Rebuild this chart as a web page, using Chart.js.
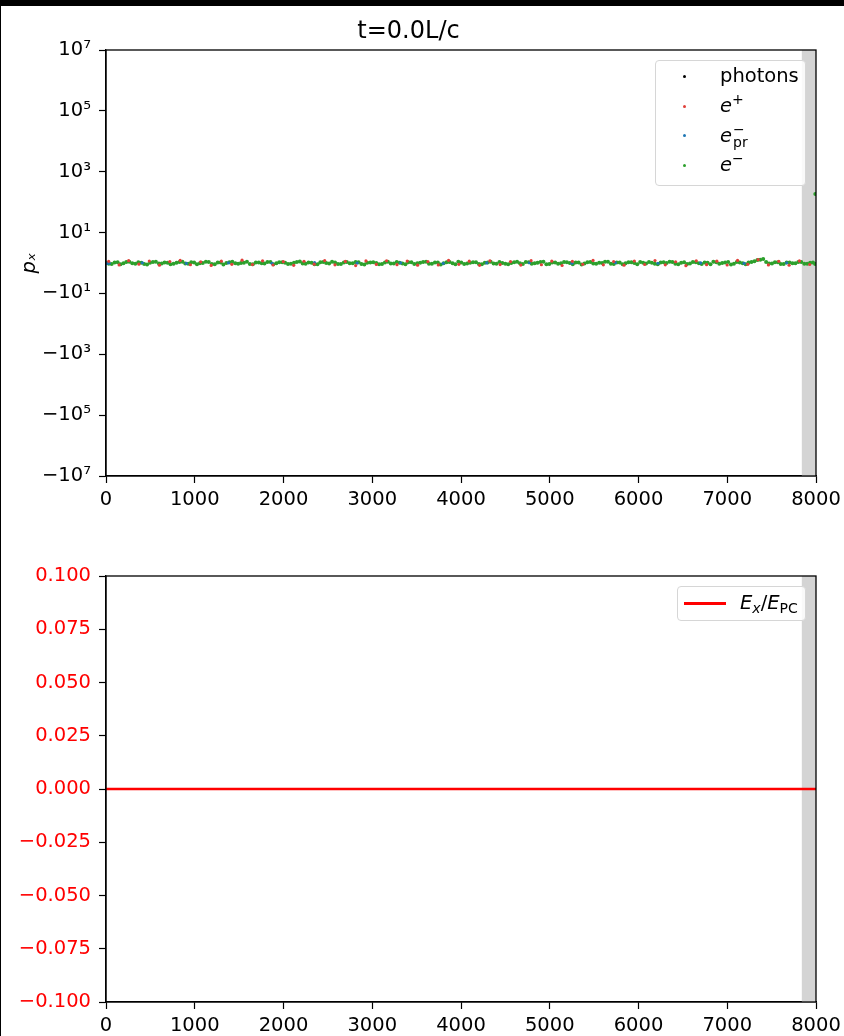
<!DOCTYPE html>
<html>
<head>
<meta charset="utf-8">
<script src="https://cdn.jsdelivr.net/npm/chart.js@4/dist/chart.umd.min.js"></script>
<style>
  body { margin: 0; background: #000; }
  #page { position: absolute; left: 1px; top: 6px; width: 843px; height: 1030px; background: #fff; }
  .panel { position: absolute; left: 0; width: 843px; }
  .leg { position: absolute; background: rgba(255,255,255,0.85); border: 1px solid #d6d6d6; border-radius: 4px;
         font-family: "DejaVu Sans"; font-size: 19.5px; color: #000; box-sizing: border-box; }
  .row { position: relative; height: 29.5px; }
  .dot { position: absolute; left: 27px; top: 13px; width: 3px; height: 3px; border-radius: 50%; }
  .txt { position: absolute; left: 64px; top: 1px; white-space: nowrap; line-height: 26px; }
  .txt sup { font-size: 0.72em; vertical-align: 0.55em; line-height: 0; }
  .ss { position: relative; display: inline-block; width: 26px; height: 19.5px; vertical-align: baseline; }
  .ss span { position: absolute; left: 1px; font-size: 14px; line-height: 14px; }
  .ss .u { top: 0px; }
  .ss .d { top: 13px; }
  .ln { position: absolute; left: 6px; top: 15px; width: 42px; height: 3px; background: #ff0000; }
  .txtb { position: absolute; left: 62px; top: 3px; white-space: nowrap; line-height: 26px; }
  .txtb sub { font-size: 0.72em; vertical-align: -0.25em; line-height: 0; }
</style>
</head>
<body>
<div id="page">
  <div class="panel" style="top:0;height:520px"><canvas id="topChart"></canvas><div id="legTop" class="leg"></div></div>
  <div class="panel" style="top:520px;height:510px"><canvas id="botChart"></canvas><div id="legBot" class="leg"></div></div>
</div>
<script>
// particle momenta p_x against x
const photonX = [];
const photonP = [];
const ePlusX = [30, 148, 255, 371, 488, 602, 719, 836, 951, 1067,
  1185, 1300, 1418, 1533, 1650, 1764, 1882, 1998, 2115, 2231,
  2346, 2464, 2580, 2697, 2813, 2929, 3046, 3161, 3279, 3394,
  3511, 3627, 3744, 3860, 3976, 4093, 4209, 4325, 4441, 4558,
  4674, 4790, 4906, 5023, 5139, 5255, 5372, 5488, 5604, 5720,
  5837, 5953, 6069, 6186, 6302, 6418, 6534, 6651, 6767, 6883,
  6999, 7116, 7232, 7348, 7464, 7581, 7697, 7813, 7929];
const ePlusP = [0.55, -0.62, 0.78, -0.40, 0.66, -0.71, 0.49, 0.84, -0.58, 0.37,
  -0.80, 0.61, -0.45, 0.92, -0.53, 0.70, -0.66, 0.44, -0.75, 0.58,
  -0.39, 0.81, -0.60, 0.52, -0.85, 0.67, -0.47, 0.74, -0.56, 0.63,
  -0.70, 0.48, -0.64, 0.88, -0.42, 0.59, -0.77, 0.69, -0.51, 0.46,
  -0.68, 0.76, -0.57, 0.62, -0.82, 0.54, -0.43, 0.86, -0.61, 0.50,
  -0.73, 0.65, -0.49, 0.79, -0.59, 0.41, -0.88, 0.72, -0.54, 0.60,
  -0.66, 0.83, -0.45, 1.10, -0.63, 0.57, -0.74, 0.68, -0.50];
const ePrX = [8, 20, 35, 410, 905, 1380, 1870, 2350, 2830, 3320, 3800, 4290, 4770, 5250, 5740, 6220, 6700, 7190, 7670];
const ePrP = [-0.15, 0.10, -0.05, 0.08, -0.12, 0.05, -0.09, 0.11, -0.04, 0.07, -0.10, 0.03, 0.09, -0.06, 0.12, -0.08, 0.04, -0.11, 0.06];
const eMinusX = [0, 64, 131, 197, 262, 330, 398, 463, 529, 596,
  660, 727, 795, 861, 926, 993, 1058, 1125, 1192, 1259,
  1323, 1390, 1457, 1521, 1588, 1655, 1722, 1786, 1853, 1920,
  1985, 2051, 2118, 2184, 2249, 2316, 2383, 2448, 2514, 2581,
  2647, 2713, 2780, 2846, 2911, 2978, 3045, 3110, 3176, 3243,
  3309, 3374, 3441, 3508, 3573, 3639, 3706, 3772, 3838, 3905,
  3970, 4036, 4103, 4169, 4235, 4301, 4367, 4433, 4499, 4566,
  4632, 4697, 4764, 4830, 4896, 4962, 5028, 5094, 5161, 5226,
  5292, 5359, 5424, 5490, 5557, 5623, 5689, 5755, 5821, 5887,
  5953, 6019, 6085, 6151, 6217, 6283, 6350, 6415, 6481, 6547,
  6613, 6680, 6745, 6811, 6877, 6943, 7010, 7075, 7141, 7207,
  7273, 7340, 7405, 7471, 7537, 7603, 7669, 7735, 7801, 7868,
  7934, 7990, 7992,
  32, 97, 164, 229, 296, 364, 430, 496, 562, 628,
  693, 761, 828, 893, 960, 1025, 1091, 1158, 1225, 1291,
  1356, 1423, 1489, 1554, 1621, 1688, 1754, 1819, 1886, 1952,
  2018, 2084, 2151, 2216, 2282, 2349, 2415, 2481, 2547, 2614,
  2680, 2746, 2813, 2878, 2944, 3011, 3077, 3143, 3209, 3276,
  3341, 3407, 3474, 3540, 3606, 3672, 3739, 3805, 3871, 3937,
  4003, 4069, 4136, 4202, 4268, 4334, 4400, 4466, 4532, 4599,
  4664, 4730, 4797, 4863, 4929, 4995, 5061, 5127, 5193, 5259,
  5325, 5391, 5457, 5523, 5590, 5656, 5722, 5788, 5854, 5920,
  5986, 6052, 6118, 6184, 6250, 6316, 6382, 6448, 6514, 6580,
  6646, 6712, 6778, 6844, 6910, 6976, 7042, 7108, 7174, 7240,
  7306, 7372, 7438, 7504, 7570, 7636, 7702, 7768, 7834, 7901,
  7966];
const eMinusP = [0.12, -0.35, 0.28, -0.10, 0.41, -0.22, 0.05, -0.48, 0.33, -0.15,
  0.20, -0.39, 0.09, 0.37, -0.27, 0.14, -0.06, 0.45, -0.31, 0.18,
  -0.52, 0.26, -0.12, 0.03, 0.39, -0.44, 0.16, -0.20, 0.31, -0.08,
  0.22, -0.36, 0.11, 0.47, -0.25, 0.07, -0.41, 0.29, -0.14, 0.19,
  -0.33, 0.36, -0.05, 0.24, -0.46, 0.13, 0.02, -0.29, 0.42, -0.18,
  0.08, -0.38, 0.27, -0.11, 0.34, -0.23, 0.15, -0.49, 0.21, -0.07,
  0.38, -0.30, 0.10, 0.25, -0.42, 0.17, -0.16, 0.32, -0.26, 0.04,
  0.44, -0.34, 0.23, -0.09, 0.30, -0.40, 0.14, -0.21, 0.35, -0.03,
  0.19, -0.47, 0.28, -0.13, 0.06, 0.40, -0.28, 0.16, -0.37, 0.26,
  -0.02, 0.33, -0.19, 0.11, -0.43, 0.22, 0.37, -0.24, 0.09, -0.32,
  0.29, -0.10, 0.18, -0.45, 0.24, 0.01, 0.36, -0.27, 0.13, -0.39,
  0.31, 0.95, 1.30, -0.17, 0.27, -0.35, 0.20, -0.06, 0.34, -0.23,
  0.12, -0.30, 185,
  -0.21, 0.17, -0.40, 0.30, -0.08, 0.25, -0.33, 0.06, 0.38, -0.19,
  0.11, -0.28, 0.34, -0.14, 0.22, -0.45, 0.03, 0.29, -0.37, 0.15,
  -0.04, 0.41, -0.26, 0.10, -0.31, 0.19, -0.12, 0.36, -0.43, 0.21,
  0.07, -0.24, 0.32, -0.16, 0.13, -0.38, 0.27, -0.02, 0.40, -0.29,
  0.18, -0.09, 0.35, -0.34, 0.05, 0.23, -0.41, 0.14, -0.20, 0.31,
  -0.13, 0.26, -0.36, 0.09, 0.43, -0.25, 0.16, -0.07, 0.33, -0.44,
  0.20, -0.17, 0.28, -0.30, 0.12, 0.37, -0.22, 0.04, -0.39, 0.24,
  -0.11, 0.30, -0.27, 0.08, 0.39, -0.35, 0.17, -0.05, 0.26, -0.42,
  0.14, -0.18, 0.34, -0.23, 0.02, 0.41, -0.32, 0.19, -0.10, 0.28,
  -0.37, 0.07, 0.31, -0.26, 0.15, -0.04, 0.36, -0.40, 0.22, -0.13,
  0.25, -0.31, 0.10, 0.38, -0.21, 0.16, -0.46, 0.29, -0.08, 0.20,
  0.60, 1.05, 0.33, -0.15, 0.27, -0.36, 0.18, -0.09, 0.31, -0.24,
  0.13];

// field E_x/E_PC along x
const fieldX = [0, 1000, 2000, 3000, 4000, 5000, 6000, 7000, 8000];
const fieldE = [0, 0, 0, 0, 0, 0, 0, 0, 0];

const symTicks = [-1e7, -1e5, -1e3, -10, 10, 1e3, 1e5, 1e7];
const symTickLabels = ["−10⁷", "−10⁵", "−10³", "−10¹", "10¹", "10³", "10⁵", "10⁷"];
const shadeX = [7840, 8000];

const seriesNames = ["photons", "e+", "e-pr", "e-"];
const seriesLegend = ["photons", "<i>e</i><sup>+</sup>", "<i>e</i><span class='ss'><span class='u'>−</span><span class='d'>pr</span></span>", "<i>e</i><sup>−</sup>"];
const seriesColors = ["#000000", "#e0403a", "#1f77b4", "#2ca02c"];

const LINTHRESH = 10;
function symlog(v) {
  const a = Math.abs(v);
  return a <= LINTHRESH ? v / LINTHRESH : Math.sign(v) * (1 + Math.log10(a / LINTHRESH));
}
function symexp(t) {
  const a = Math.abs(t);
  return a <= 1 ? t * LINTHRESH : Math.sign(t) * LINTHRESH * Math.pow(10, a - 1);
}

class SymlogScale extends Chart.Scale {
  determineDataLimits() {
    this.min = this.options.min;
    this.max = this.options.max;
  }
  buildTicks() {
    return symTicks.map(v => ({ value: v }));
  }
  getLabelForValue(v) { return String(v); }
  configure() {
    super.configure();
    this._t0 = symlog(this.min);
    this._t1 = symlog(this.max);
  }
  getPixelForValue(v) {
    return this.getPixelForDecimal((symlog(v) - this._t0) / (this._t1 - this._t0));
  }
  getValueForPixel(p) {
    return symexp(this._t0 + this.getDecimalForPixel(p) * (this._t1 - this._t0));
  }
}
SymlogScale.id = "symlog";
SymlogScale.defaults = {};
Chart.register(SymlogScale);

Chart.defaults.font.family = "DejaVu Sans";
Chart.defaults.font.size = 19.5;
Chart.defaults.color = "#000";

function pts(xs, ys) {
  return xs.map((x, i) => ({ x: x, y: ys[i] }));
}

const shade = {
  id: "shade",
  beforeDatasetsDraw(chart) {
    const { ctx, chartArea, scales } = chart;
    const x0 = scales.x.getPixelForValue(shadeX[0]);
    const x1 = scales.x.getPixelForValue(shadeX[1]);
    ctx.save();
    ctx.fillStyle = "#d4d4d4";
    ctx.fillRect(x0, chartArea.top, x1 - x0, chartArea.bottom - chartArea.top);
    ctx.restore();
  },
  afterDatasetsDraw(chart) {
    const { ctx, chartArea } = chart;
    ctx.save();
    ctx.strokeStyle = "#000";
    ctx.lineWidth = 1.3;
    ctx.strokeRect(chartArea.left, chartArea.top, chartArea.right - chartArea.left, chartArea.bottom - chartArea.top);
    ctx.restore();
  }
};

function placeLegend(el, w, h) {
  return {
    id: "htmlLegend",
    afterRender(chart) {
      const a = chart.chartArea;
      el.style.left = (a.right - 10 - w) + "px";
      el.style.top = (a.top + 10) + "px";
      el.style.width = w + "px";
      el.style.height = h + "px";
    }
  };
}

const legTop = document.getElementById("legTop");
legTop.innerHTML = seriesLegend.map((html, i) =>
  `<div class="row"><span class="dot" style="background:${seriesColors[i]}"></span><span class="txt">${html}</span></div>`
).join("");
legTop.style.paddingTop = "1px";

const legBot = document.getElementById("legBot");
legBot.innerHTML = `<span class="ln"></span><span class="txtb"><i>E</i><sub><i>x</i></sub>/<i>E</i><sub>PC</sub></span>`;

const axisGrid = { display: true, drawOnChartArea: false, drawTicks: true, tickLength: 7, tickColor: "#000", tickWidth: 1.2 };
const axisBorder = { display: true, color: "#000", width: 1.3 };

const xAxis = (h) => ({
  type: "linear", min: 0, max: 8000,
  ticks: { stepSize: 1000, callback: v => String(v), padding: 5, maxRotation: 0, autoSkip: false },
  grid: axisGrid, border: axisBorder,
  afterFit: s => { s.height = h; s.paddingLeft = 0; s.paddingRight = 0; }
});

const allX = [photonX, ePlusX, ePrX, eMinusX];
const allP = [photonP, ePlusP, ePrP, eMinusP];
const radii = [1.6, 1.6, 1.6, 2.0];

new Chart(document.getElementById("topChart"), {
  type: "scatter",
  data: {
    datasets: seriesNames.map((name, i) => ({
      label: name,
      data: pts(allX[i], allP[i]),
      backgroundColor: seriesColors[i],
      borderWidth: 0,
      pointRadius: radii[i]
    }))
  },
  options: {
    responsive: true, maintainAspectRatio: false, animation: false,
    layout: { padding: { left: 0, right: 28, top: 0, bottom: 0 } },
    scales: {
      x: xAxis(50),
      y: {
        type: "symlog", min: -1e7, max: 1e7,
        ticks: { callback: (v, i) => symTickLabels[i], padding: 8, autoSkip: false },
        grid: axisGrid, border: axisBorder,
        title: { display: true, text: "pₓ", font: { style: "italic", size: 19.5 }, padding: { top: 17, bottom: 0 } },
        afterFit: s => { s.width = 105; }
      }
    },
    plugins: {
      legend: { display: false }, tooltip: { enabled: false },
      title: { display: true, text: "t=0.0L/c", font: { size: 24, weight: "normal" }, color: "#000", padding: { top: 11, bottom: 4.2 } }
    }
  },
  plugins: [shade, placeLegend(legTop, 151, 126)]
});

new Chart(document.getElementById("botChart"), {
  type: "scatter",
  data: {
    datasets: [{
      label: "Ex/EPC",
      data: pts(fieldX, fieldE),
      showLine: true,
      borderColor: "#ff0000",
      borderWidth: 2.6,
      pointRadius: 0
    }]
  },
  options: {
    responsive: true, maintainAspectRatio: false, animation: false,
    layout: { padding: { left: 0, right: 28, top: 50, bottom: 0 } },
    scales: {
      x: xAxis(34),
      y: {
        type: "linear", min: -0.1, max: 0.1,
        ticks: {
          stepSize: 0.025, color: "#ff0000", padding: 8, autoSkip: false,
          callback: v => Math.abs(v) < 1e-9 ? "0.000" : (v < 0 ? "−" : "") + Math.abs(v).toFixed(3)
        },
        grid: axisGrid, border: axisBorder,
        afterFit: s => { s.width = 105; }
      }
    },
    plugins: { legend: { display: false }, tooltip: { enabled: false } }
  },
  plugins: [shade, placeLegend(legBot, 129, 35)]
});
</script>
</body>
</html>
